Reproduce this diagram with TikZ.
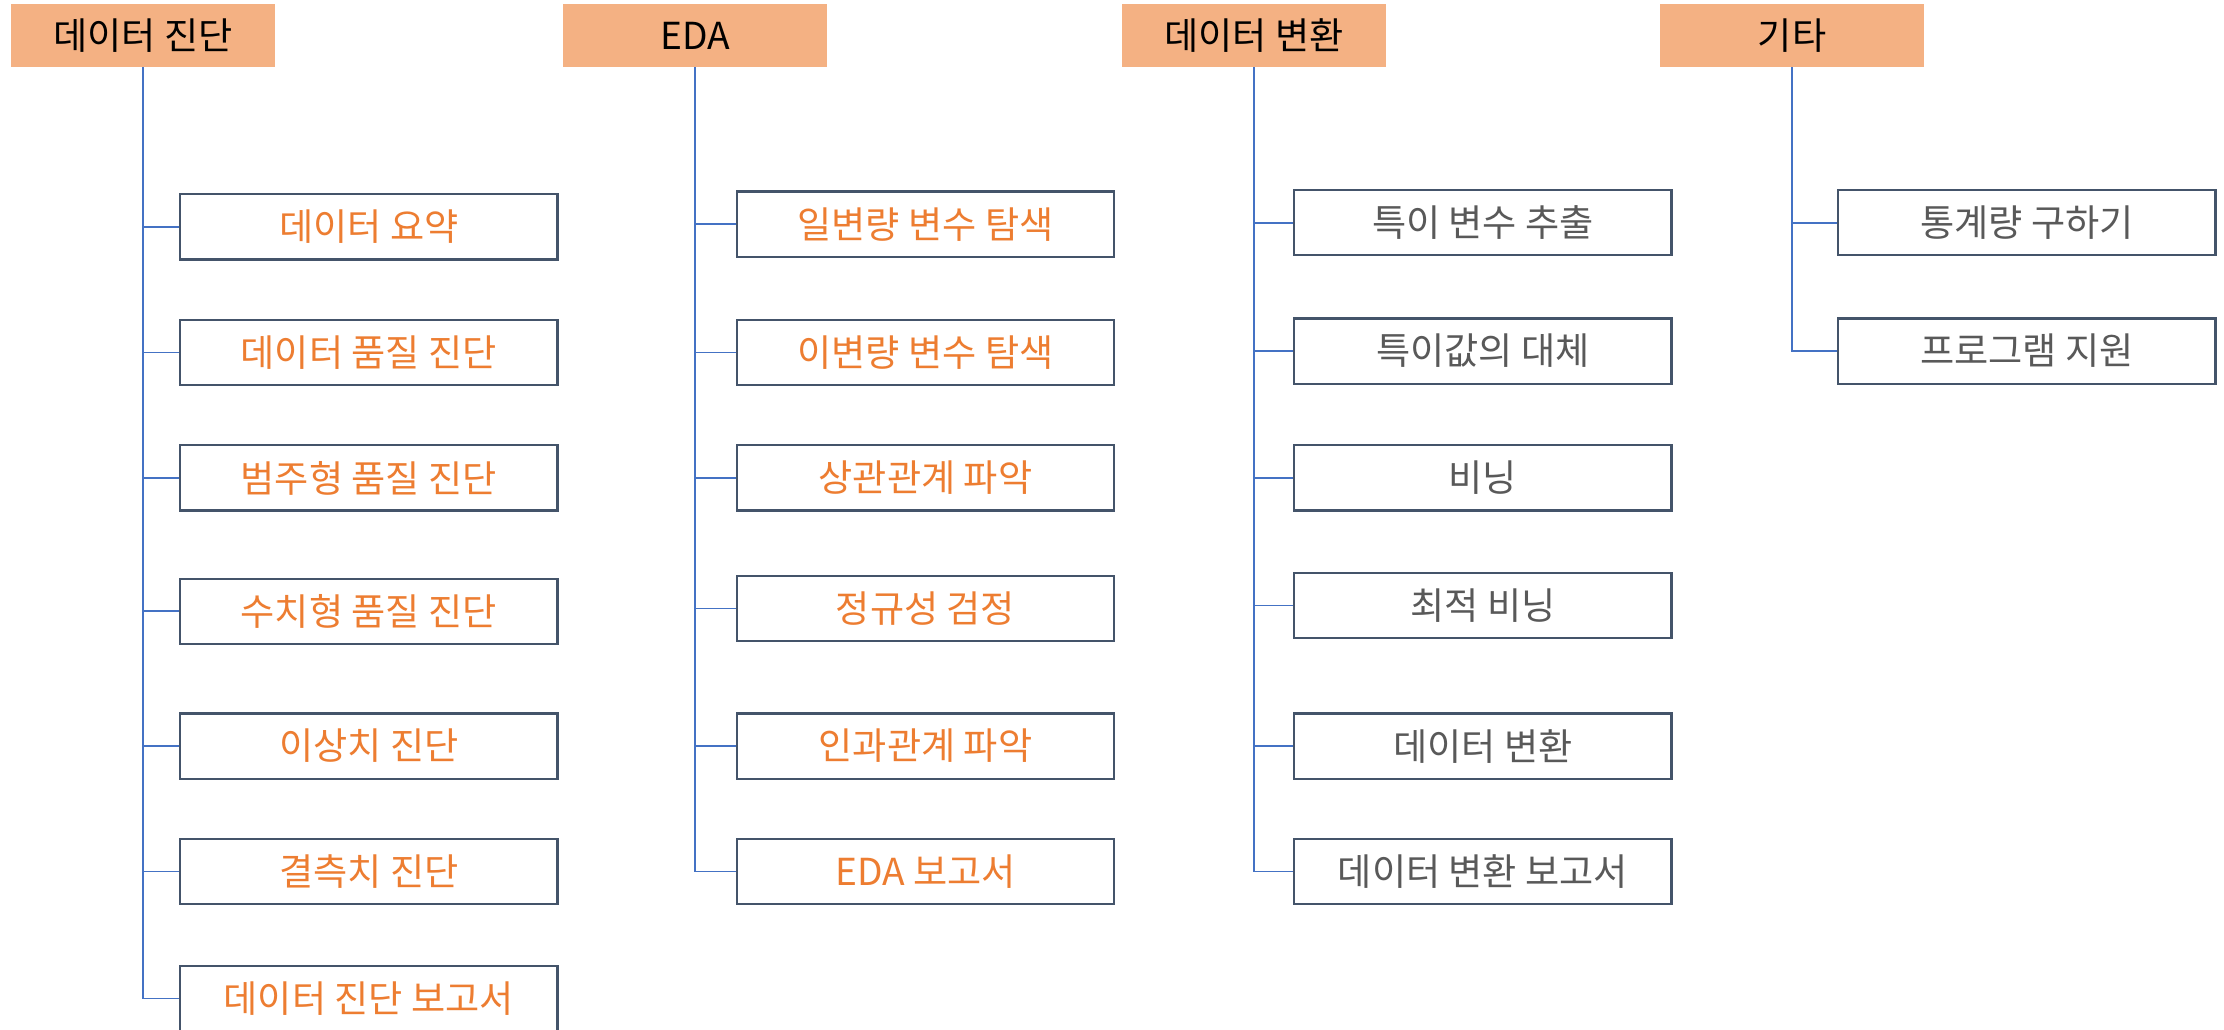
\documentclass[tikz,border=0pt]{standalone}
\usepackage{fontspec}
\setmainfont{Noto Sans CJK KR}
\definecolor{hdrfill}{HTML}{F4B183}
\definecolor{boxline}{HTML}{44546A}
\definecolor{conn}{HTML}{4472C4}
\definecolor{orangetxt}{HTML}{ED7D31}
\definecolor{graytxt}{HTML}{595959}
\begin{document}
\begin{tikzpicture}[x=0.5pt,y=-0.5pt,
  hdr/.style={rectangle,fill=hdrfill,minimum width=93pt,minimum height=22pt,inner sep=0pt,font=\fontsize{13.1}{15}\selectfont,text=black},
  itembox/.style={rectangle,draw=boxline,line width=0.8pt,fill=white,minimum width=133pt,minimum height=23pt,inner sep=0pt,font=\fontsize{13.1}{15}\selectfont},
  otxt/.style={itembox,text=orangetxt},
  gtxt/.style={itembox,text=graytxt},
  link/.style={draw=conn,line width=0.6pt}]
\useasboundingbox (0,0) rectangle (1568,726);
% headers
\node[hdr] (h1) at (101,25) {데이터 진단};
\node[hdr] (h2) at (490,25) {EDA};
\node[hdr] (h3) at (884,25) {데이터 변환};
\node[hdr] (h4) at (1263.5,25) {기타};
% column 1
\node[otxt] (a1) at (260,160) {데이터 요약};
\node[otxt] (a2) at (260,248.5) {데이터 품질 진단};
\node[otxt] (a3) at (260,337) {범주형 품질 진단};
\node[otxt] (a4) at (260,431) {수치형 품질 진단};
\node[otxt] (a5) at (260,526) {이상치 진단};
\node[otxt] (a6) at (260,614.5) {결측치 진단};
\node[otxt] (a7) at (260,704) {데이터 진단 보고서};
% column 2
\node[otxt] (b1) at (652.5,158) {일변량 변수 탐색};
\node[otxt] (b2) at (652.5,248.5) {이변량 변수 탐색};
\node[otxt] (b3) at (652.5,337) {상관관계 파악};
\node[otxt] (b4) at (652.5,429) {정규성 검정};
\node[otxt] (b5) at (652.5,526) {인과관계 파악};
\node[otxt] (b6) at (652.5,614.5) {EDA 보고서};
% column 3
\node[gtxt] (c1) at (1045.5,157) {특이 변수 추출};
\node[gtxt] (c2) at (1045.5,247.5) {특이값의 대체};
\node[gtxt] (c3) at (1045.5,337) {비닝};
\node[gtxt] (c4) at (1045.5,427) {최적 비닝};
\node[gtxt] (c5) at (1045.5,526) {데이터 변환};
\node[gtxt] (c6) at (1045.5,614.5) {데이터 변환 보고서};
% column 4
\node[gtxt] (d1) at (1429,157) {통계량 구하기};
\node[gtxt] (d2) at (1429,247.5) {프로그램 지원};
% connectors
\foreach \n in {a1,a2,a3,a4,a5,a6,a7} {\draw[link] (h1.south) |- (\n.west);}
\foreach \n in {b1,b2,b3,b4,b5,b6} {\draw[link] (h2.south) |- (\n.west);}
\foreach \n in {c1,c2,c3,c4,c5,c6} {\draw[link] (h3.south) |- (\n.west);}
\foreach \n in {d1,d2} {\draw[link] (h4.south) |- (\n.west);}
\end{tikzpicture}
\end{document}
